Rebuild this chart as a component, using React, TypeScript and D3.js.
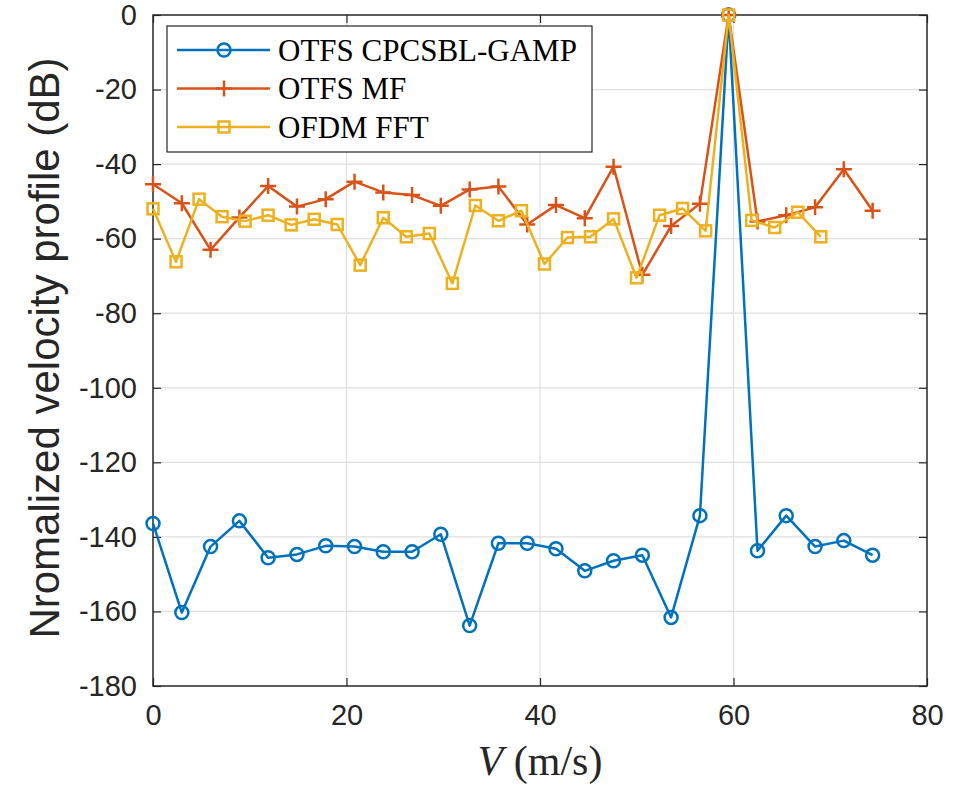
import React, { useEffect, useRef } from 'react';
import * as d3 from 'd3';

// velocity grid of the OTFS estimators (m/s)
const otfsV = [
  0, 2.98, 5.95, 8.93, 11.9, 14.88, 17.85, 20.83, 23.8, 26.78, 29.75, 32.73, 35.7,
  38.68, 41.65, 44.63, 47.6, 50.58, 53.55, 56.53, 59.5, 62.48, 65.45, 68.43, 71.4, 74.38,
];
// velocity grid of the OFDM estimator (m/s)
const ofdmV = [
  0, 2.38, 4.76, 7.14, 9.52, 11.9, 14.28, 16.66, 19.04, 21.42, 23.8, 26.18, 28.56, 30.94,
  33.32, 35.7, 38.08, 40.46, 42.84, 45.22, 47.6, 49.98, 52.36, 54.74, 57.12, 59.5, 61.88,
  64.26, 66.64, 69.02,
];

const gampDb = [
  -136.4, -160.3, -142.6, -135.7, -145.6, -144.7, -142.4, -142.6, -144.0, -144.0, -139.3,
  -163.8, -141.7, -141.7, -143.2, -149.1, -146.4, -144.9, -161.6, -134.3, 0, -143.7, -134.3,
  -142.6, -141.0, -144.9,
];
const mfDb = [
  -45.4, -50.5, -63.0, -54.3, -45.9, -51.4, -49.4, -44.7, -47.6, -48.3, -51.2, -46.8, -46.0,
  -56.2, -51.0, -54.5, -40.7, -69.7, -56.6, -50.6, 0, -55.4, -53.7, -51.6, -41.4, -52.5,
];
const fftDb = [
  -52.0, -66.2, -49.4, -54.1, -55.3, -53.7, -56.3, -54.8, -56.2, -67.1, -54.4, -59.5, -58.6,
  -72.0, -51.1, -55.2, -52.5, -66.8, -59.7, -59.5, -54.7, -70.5, -53.7, -51.9, -57.9, 0,
  -55.1, -57.0, -52.9, -59.5,
];

const seriesNames = ['OTFS CPCSBL-GAMP', 'OTFS MF', 'OFDM FFT'];
const xTicks = [0, 20, 40, 60, 80];
const yTicks = [0, -20, -40, -60, -80, -100, -120, -140, -160, -180];

const App = () => {
  const svgRef = useRef<SVGSVGElement>(null);

  useEffect(() => {
    d3.select(svgRef.current).selectAll('*').remove();

    const width = 956;
    const height = 788;
    const margin = { top: 15, right: 29, bottom: 102, left: 153 };
    const w = width - margin.left - margin.right;
    const h = height - margin.top - margin.bottom;

    const svg = d3
      .select(svgRef.current)
      .attr('width', width)
      .attr('height', height)
      .append('g')
      .attr('transform', `translate(${margin.left}, ${margin.top})`);

    const xScale = d3.scaleLinear().domain([0, 80]).range([0, w]);
    const yScale = d3.scaleLinear().domain([-180, 0]).range([h, 0]);

    const sans = 'Liberation Sans, Arial, sans-serif';
    const serif = 'Liberation Serif, Times New Roman, serif';
    const fmt = (d) => String(d); // plain hyphen minus, like MATLAB

    // grid
    svg
      .selectAll('.gx')
      .data(xTicks.slice(1, -1))
      .enter()
      .append('line')
      .attr('x1', (d) => xScale(d))
      .attr('x2', (d) => xScale(d))
      .attr('y1', 0)
      .attr('y2', h)
      .attr('stroke', '#dfdfdf')
      .attr('stroke-width', 1.2);
    svg
      .selectAll('.gy')
      .data(yTicks.slice(1, -1))
      .enter()
      .append('line')
      .attr('x1', 0)
      .attr('x2', w)
      .attr('y1', (d) => yScale(d))
      .attr('y2', (d) => yScale(d))
      .attr('stroke', '#dfdfdf')
      .attr('stroke-width', 1.2);

    // axes (ticks inside, box all round)
    const styleAxis = (g) => {
      g.select('.domain').remove();
      g.selectAll('line').attr('stroke', '#262626').attr('stroke-width', 1.2);
      g.selectAll('text')
        .attr('font-family', sans)
        .attr('font-size', 29)
        .attr('fill', '#262626');
    };
    svg
      .append('g')
      .attr('transform', `translate(0, ${h})`)
      .call(d3.axisBottom(xScale).tickValues(xTicks).tickFormat(fmt).tickSizeInner(-8).tickSizeOuter(0).tickPadding(18))
      .call(styleAxis);
    svg
      .append('g')
      .call(d3.axisTop(xScale).tickValues(xTicks).tickSizeInner(-8).tickSizeOuter(0).tickFormat(() => ''))
      .call(styleAxis);
    svg
      .append('g')
      .call(d3.axisLeft(yScale).tickValues(yTicks).tickFormat(fmt).tickSizeInner(-8).tickSizeOuter(0).tickPadding(16))
      .call(styleAxis);
    svg
      .append('g')
      .attr('transform', `translate(${w}, 0)`)
      .call(d3.axisRight(yScale).tickValues(yTicks).tickSizeInner(-8).tickSizeOuter(0).tickFormat(() => ''))
      .call(styleAxis);
    svg
      .append('rect')
      .attr('width', w)
      .attr('height', h)
      .attr('fill', 'none')
      .attr('stroke', '#262626')
      .attr('stroke-width', 1.5);

    const colors = ['#0072BD', '#D95319', '#EDB120'];
    const series = [
      { xs: otfsV, ys: gampDb, marker: 'circle' },
      { xs: otfsV, ys: mfDb, marker: 'plus' },
      { xs: ofdmV, ys: fftDb, marker: 'square' },
    ];

    const line = d3
      .line<[number, number]>()
      .x((d) => xScale(d[0]))
      .y((d) => yScale(d[1]));

    const drawMarker = (g, kind, color, x, y) => {
      if (kind === 'circle') {
        g.append('circle')
          .attr('cx', x)
          .attr('cy', y)
          .attr('r', 6.5)
          .attr('fill', 'none')
          .attr('stroke', color)
          .attr('stroke-width', 2.5);
      } else if (kind === 'plus') {
        g.append('path')
          .attr('d', `M${x - 8},${y}H${x + 8}M${x},${y - 8}V${y + 8}`)
          .attr('stroke', color)
          .attr('stroke-width', 2.5);
      } else {
        g.append('rect')
          .attr('x', x - 5.5)
          .attr('y', y - 5.5)
          .attr('width', 11)
          .attr('height', 11)
          .attr('fill', 'none')
          .attr('stroke', color)
          .attr('stroke-width', 2.5);
      }
    };

    series.forEach((s, i) => {
      const pts = s.xs.map((v, k) => [v, s.ys[k]] as [number, number]);
      const g = svg.append('g');
      g.append('path')
        .datum(pts)
        .attr('fill', 'none')
        .attr('stroke', colors[i])
        .attr('stroke-width', 2.5)
        .attr('stroke-linejoin', 'round')
        .attr('d', line);
      pts.forEach((p) => drawMarker(g, s.marker, colors[i], xScale(p[0]), yScale(p[1])));
    });

    // legend
    const lg = svg.append('g').attr('transform', 'translate(14, 11)');
    lg.append('rect')
      .attr('width', 425)
      .attr('height', 126)
      .attr('fill', 'white')
      .attr('stroke', '#262626')
      .attr('stroke-width', 1.2);
    seriesNames.forEach((name, i) => {
      const cy = 24 + i * 38.5;
      lg.append('line')
        .attr('x1', 10)
        .attr('x2', 103)
        .attr('y1', cy)
        .attr('y2', cy)
        .attr('stroke', colors[i])
        .attr('stroke-width', 2.5);
      drawMarker(lg, series[i].marker, colors[i], 57, cy);
      lg.append('text')
        .attr('x', 111)
        .attr('y', cy)
        .attr('dy', '0.35em')
        .attr('font-family', serif)
        .attr('font-size', 31)
        .attr('fill', '#000')
        .text(name);
    });

    // axis labels
    const xl = svg
      .append('text')
      .attr('x', w / 2)
      .attr('y', h + 89)
      .attr('text-anchor', 'middle')
      .attr('font-family', serif)
      .attr('font-size', 42)
      .attr('fill', '#262626');
    xl.append('tspan').attr('font-style', 'italic').text('V');
    xl.append('tspan').text(' (m/s)');

    svg
      .append('text')
      .attr('transform', `translate(-94, 333) rotate(-90)`)
      .attr('text-anchor', 'middle')
      .attr('font-family', sans)
      .attr('font-size', 42)
      .attr('fill', '#262626')
      .text('Nromalized velocity profile (dB)');
  }, []);

  return <svg ref={svgRef} style={{ position: 'absolute', left: 0, top: 0 }}></svg>;
};

export default App;
